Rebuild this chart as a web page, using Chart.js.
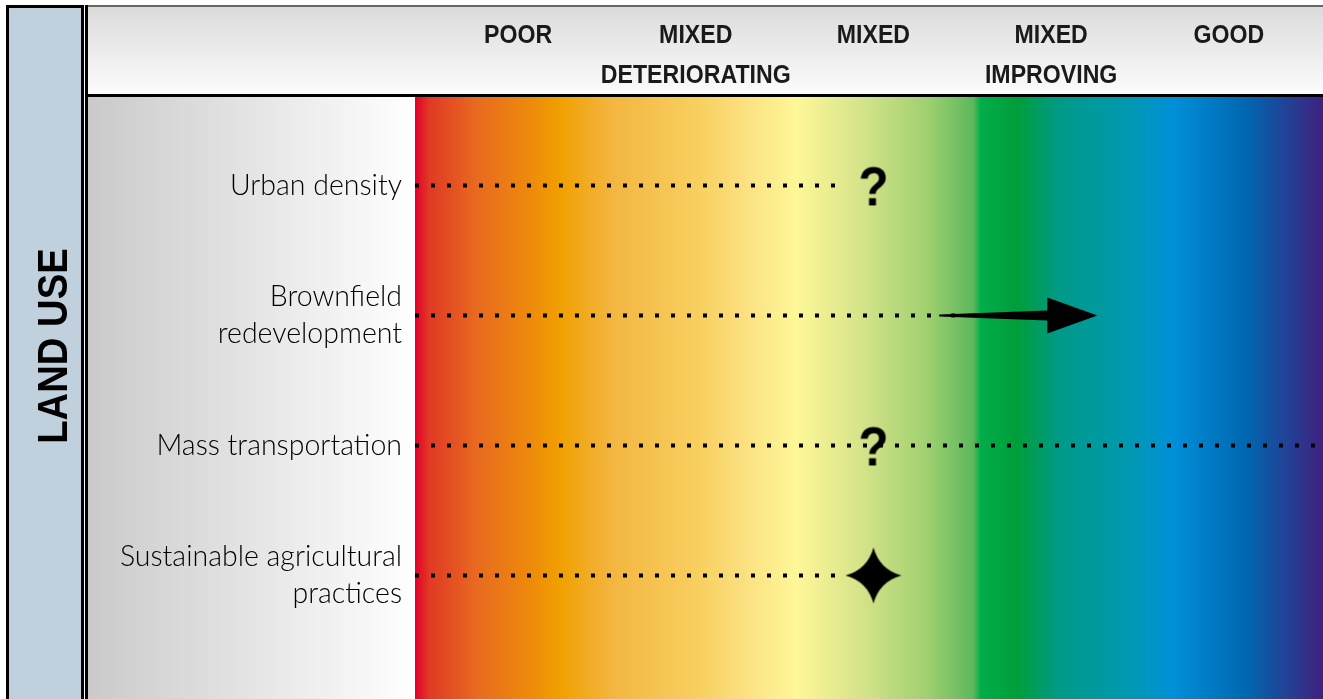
<!DOCTYPE html>
<html>
<head>
<meta charset="utf-8">
<title>Land use</title>
<script src="https://cdn.jsdelivr.net/npm/chart.js@4.4.1/dist/chart.umd.min.js"></script>
<style>
  html, body { margin: 0; padding: 0; background: #fff; }
  canvas { display: block; }
</style>
</head>
<body>
<canvas id="landUse" width="1323" height="699"></canvas>
<script>
// scale of status columns, left to right
const statusLabels = [["POOR"], ["MIXED", "DETERIORATING"], ["MIXED"], ["MIXED", "IMPROVING"], ["GOOD"]];
// indicators, top to bottom
const indicators = [["Urban density"], ["Brownfield", "redevelopment"], ["Mass transportation"], ["Sustainable agricultural", "practices"]];
const markerKinds = ["question", "arrow", "question", "star"];
const markerValues = [2, 2.37, 2, 2];      // marker position (arrow tail for the arrow)
const arrowEnds = [null, 3.26, null, null]; // arrow tip
const dotEnds = [1.85, 2.37, 4.53, 1.85];   // where the dotted leader stops
const sectionTitle = "LAND USE";

const X_MIN = -0.58, X_MAX = 4.53;
const Y_MIN = -0.68, Y_MAX = 3.95;

const rainbowStops = [
  [0, "#e4002b"], [0.016, "#e03a24"], [0.068, "#e86a20"], [0.13, "#ee8c0a"],
  [0.16, "#f0a000"], [0.215, "#f3b540"], [0.314, "#f8d060"], [0.362, "#fbe080"],
  [0.42, "#fef798"], [0.49, "#d6e48a"], [0.564, "#a0d070"], [0.615, "#5cb85c"],
  [0.623, "#00ad4a"], [0.663, "#009e3a"], [0.71, "#009a88"], [0.784, "#0099b0"],
  [0.835, "#0090d8"], [0.916, "#0066b0"], [1, "#40217e"]
];

function makeQuestion() {
  const c = document.createElement("canvas");
  c.width = 40; c.height = 52;
  const g = c.getContext("2d");
  g.fillStyle = "#000";
  g.font = "bold 56px 'Liberation Sans', Arial, sans-serif";
  g.textAlign = "center";
  g.textBaseline = "alphabetic";
  g.translate(20, 0);
  g.scale(0.88, 1);
  g.fillText("?", 0, 46);
  return c;
}

function makeStar() {
  const c = document.createElement("canvas");
  c.width = 60; c.height = 60;
  const g = c.getContext("2d");
  const cx = 30, cy = 30, r = 28, k = 6;
  g.fillStyle = "#000";
  g.beginPath();
  g.moveTo(cx, cy - r);
  g.quadraticCurveTo(cx + k, cy - k, cx + r, cy);
  g.quadraticCurveTo(cx + k, cy + k, cx, cy + r);
  g.quadraticCurveTo(cx - k, cy + k, cx - r, cy);
  g.quadraticCurveTo(cx - k, cy - k, cx, cy - r);
  g.closePath();
  g.fill();
  return c;
}

const markerImages = { question: makeQuestion(), star: makeStar() };

const framePlugin = {
  id: "frame",
  beforeDraw(chart) {
    const { ctx, chartArea: a, width, height } = chart;
    ctx.save();
    ctx.fillStyle = "#fff";
    ctx.fillRect(0, 0, width, height);

    // side bar
    ctx.fillStyle = "#000";
    ctx.fillRect(6, 5, 78, height - 5);
    ctx.fillStyle = "#c0d0dc";
    ctx.fillRect(9, 8, 72, height - 8);

    // header
    ctx.fillStyle = "#000";
    ctx.fillRect(85, 5, 3, height - 5);
    ctx.fillStyle = "#666";
    ctx.fillRect(88, 5, width - 88, 2);
    const hg = ctx.createLinearGradient(0, 7, 0, 94);
    hg.addColorStop(0, "#dbdbdb");
    hg.addColorStop(1, "#fcfcfc");
    ctx.fillStyle = hg;
    ctx.fillRect(88, 7, width - 88, 87);
    ctx.fillStyle = "#000";
    ctx.fillRect(88, 94, width - 88, 3);

    // label panel
    const lg = ctx.createLinearGradient(88, 0, a.left, 0);
    lg.addColorStop(0, "#cacaca");
    lg.addColorStop(1, "#ffffff");
    ctx.fillStyle = lg;
    ctx.fillRect(88, a.top, a.left - 88, height - a.top);

    // rainbow scale
    const rg = ctx.createLinearGradient(a.left, 0, a.right, 0);
    rainbowStops.forEach(([p, c]) => rg.addColorStop(p, c));
    ctx.fillStyle = rg;
    ctx.fillRect(a.left, a.top, a.right - a.left, height - a.top);
    ctx.restore();
  },
  afterDatasetsDraw(chart) {
    const { ctx } = chart;
    const xs = chart.scales.x, ys = chart.scales.y;
    ctx.save();
    ctx.fillStyle = "#000";
    markerKinds.forEach((kind, i) => {
      if (kind !== "arrow") return;
      const x0 = xs.getPixelForValue(markerValues[i]);
      const x1 = xs.getPixelForValue(arrowEnds[i]);
      const y = ys.getPixelForValue(i);
      const xh = x1 - 50;
      ctx.beginPath();
      ctx.moveTo(x0, y - 1);
      ctx.lineTo(xh, y - 5);
      ctx.lineTo(xh, y - 18);
      ctx.lineTo(x1, y);
      ctx.lineTo(xh, y + 18);
      ctx.lineTo(xh, y + 5);
      ctx.lineTo(x0, y + 1);
      ctx.closePath();
      ctx.fill();
      ctx.fillRect(x0 + 12, y - 2, 4, 4);
    });
    ctx.restore();
  },
  afterDraw(chart) {
    const { ctx } = chart;
    const xs = chart.scales.x;
    ctx.save();
    ctx.fillStyle = "#1a1a1a";
    ctx.textAlign = "center";
    ctx.textBaseline = "middle";
    ctx.font = "bold 26px 'Liberation Sans', Arial, sans-serif";
    statusLabels.forEach((lines, i) => {
      const x = xs.getPixelForValue(i);
      lines.forEach((line, j) => {
        ctx.save();
        ctx.translate(x, 36 + j * 40);
        ctx.scale(0.89, 1);
        ctx.fillText(line, 0, 0);
        ctx.restore();
      });
    });

    // section title
    ctx.fillStyle = "#000";
    ctx.font = "bold 43px 'Liberation Sans', Arial, sans-serif";
    ctx.translate(55, 346);
    ctx.rotate(-Math.PI / 2);
    ctx.scale(0.89, 1);
    ctx.fillText(sectionTitle, 0, 0);
    ctx.restore();
  }
};

const datasets = indicators.map((_, i) => ({
  label: "leader " + i,
  data: [{ x: X_MIN, y: i }, { x: dotEnds[i], y: i }],
  showLine: true,
  borderColor: "#000",
  borderWidth: 4,
  borderDash: [4, 12],
  borderCapStyle: "butt",
  pointRadius: 0,
  order: 2
}));

datasets.push({
  label: "markers",
  data: markerKinds.map((k, i) => ({ x: markerValues[i], y: i })).filter((_, i) => markerKinds[i] !== "arrow"),
  pointStyle: markerKinds.filter(k => k !== "arrow").map(k => markerImages[k]),
  pointRadius: 20,
  showLine: false,
  order: 1
});

new Chart(document.getElementById("landUse"), {
  type: "scatter",
  data: { datasets },
  plugins: [framePlugin],
  options: {
    responsive: false,
    animation: false,
    events: [],
    layout: { padding: { left: 88, top: 97, right: 0, bottom: 0 }, autoPadding: false },
    plugins: { legend: { display: false }, tooltip: { enabled: false } },
    scales: {
      x: { type: "linear", min: X_MIN, max: X_MAX, display: false },
      y: {
        type: "linear",
        position: "left",
        reverse: true,
        min: Y_MIN,
        max: Y_MAX,
        grid: { display: false, drawTicks: false },
        border: { display: false },
        afterBuildTicks: scale => { scale.ticks = indicators.map((_, i) => ({ value: i })); },
        afterFit: scale => {
          scale.width = 415 - 88;
          scale.paddingTop = 0;
          scale.paddingBottom = 0;
        },
        ticks: {
          autoSkip: false,
          padding: 13,
          color: "#000",
          font: { family: "Lato, 'Open Sans', sans-serif", size: 28.5, weight: 300, lineHeight: 1.3 },
          callback: value => indicators[value]
        }
      }
    }
  }
});
</script>
</body>
</html>
